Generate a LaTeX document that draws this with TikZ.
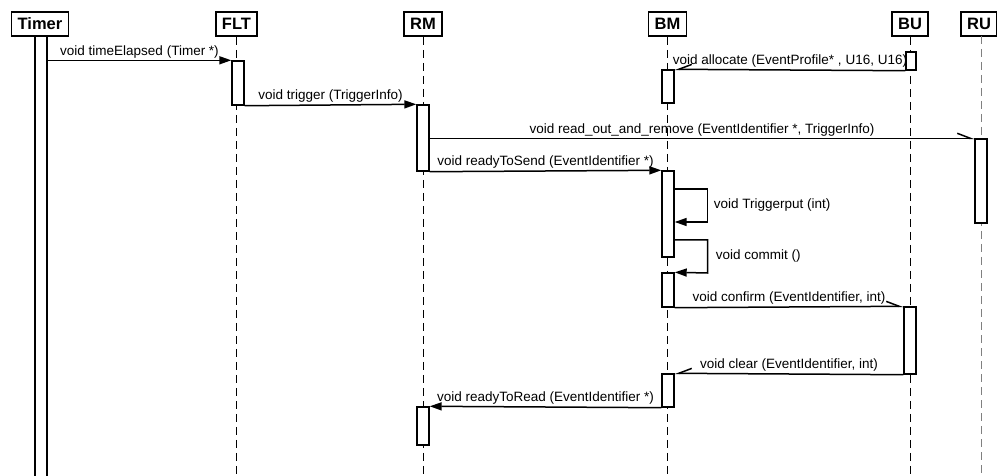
\documentclass[tikz,border=0pt]{standalone}
\usepackage{fontspec}
\setmainfont{Liberation Sans}
\usetikzlibrary{arrows.meta, positioning}
\tikzset{
  obj/.style={rectangle, draw=black, fill=white, line width=1.6pt,
              minimum height=24pt, inner xsep=6pt, inner ysep=0pt,
              font=\fontsize{16.5}{20}\selectfont\bfseries},
  life/.style={draw=black, line width=0.9pt, dash pattern=on 8pt off 5pt},
  act/.style={rectangle, draw=black, fill=white, line width=1.4pt,
              minimum width=12pt, inner sep=0pt},
  sync/.style={-{Triangle[length=12pt, width=8pt]}, draw=black, line width=1.5pt},
  async/.style={-{Straight Barb[length=13pt, width=10pt, harpoon]},
                draw=black, line width=1.5pt},
  asyncl/.style={-{Straight Barb[length=13pt, width=10pt, harpoon, swap]},
                 draw=black, line width=1.5pt},
  msg/.style={font=\fontsize{13.5}{16}\selectfont, inner sep=1.5pt},
}

\begin{document}
\begin{tikzpicture}[x=1pt, y=-1pt]
  \useasboundingbox (0,0) rectangle (997,476);
  \clip (0,0) rectangle (997,476);

  % objects
  \node[obj] (timer) at (40,24)    {Timer};
  \node[obj] (flt)   at (236.5,24) {FLT};
  \node[obj] (rm)    at (423,24)   {RM};
  \node[obj] (bm)    at (667.5,24) {BM};
  \node[obj] (bu)    at (910,24)   {BU};
  \node[obj] (ru)    at (979,24)   {RU};

  % lifelines
  \draw[life] (flt.south) -- (flt.south |- 0,480);
  \draw[life] (rm.south)  -- (rm.south |- 0,480);
  \draw[life] (bm.south)  -- (bm.south |- 0,480);
  \draw[life] (bu.south)  -- (bu.south |- 0,480);
  \draw[life, draw=gray] (981,36) -- (981,480);

  % activations
  \node[act, minimum height=450pt] (timerA) at (41,261)  {};
  \node[act, minimum height=44pt]  (flt1)   at (238,83)  {};
  \node[act, minimum height=66pt]  (rm1)    at (423,138) {};
  \node[act, minimum height=38pt]  (rm2)    at (423,426) {};
  \node[act, minimum height=33pt]  (bm1)    at (668,86.5){};
  \node[act, minimum height=86pt]  (bm2)    at (668,214) {};
  \node[act, minimum height=34pt]  (bm3)    at (668,290) {};
  \node[act, minimum height=33pt]  (bm4)    at (668,390.5){};
  \node[act, minimum height=18pt, minimum width=10pt] (bu1) at (911,61) {};
  \node[act, minimum height=67pt]  (bu2)    at (910,340.5){};
  \node[act, minimum height=84pt]  (ru1)    at (981,181) {};

  % messages
  \draw[sync] (timerA.east |- flt1.north west) --
    node[msg, above] {void timeElapsed (Timer *)} (flt1.north west);
  \draw[sync] (flt1.south east) --
    node[msg, above] {void trigger (TriggerInfo)} (rm1.north west);
  \draw[asyncl] (bu1.south west) --
    node[msg, above] {void allocate (EventProfile* , U16, U16)} (bm1.north east);
  \draw[async] (rm1.east |- ru1.north west) --
    node[msg, above] {void read\_out\_and\_remove (EventIdentifier *, TriggerInfo)} (ru1.north west);
  \draw[sync] (rm1.south east) --
    node[msg, above] {void readyToSend (EventIdentifier *)} (bm2.north west);
  \draw[sync] (bm2.east |- 0,189) -- ++(33,0) --
    node[msg, right=4pt] {void Triggerput (int)} ++(0,33) -- (bm2.east |- 0,222);
  \draw[sync] (bm2.east |- 0,240) -- ++(33,0) --
    node[msg, right=6pt] {void commit ()} ++(0,33) -- (bm3.north east);
  \draw[async] (bm3.south east) --
    node[msg, above] {void confirm (EventIdentifier, int)} (bu2.north west);
  \draw[asyncl] (bu2.south west) --
    node[msg, above] {void clear (EventIdentifier, int)} (bm4.north east);
  \draw[sync] (bm4.south west) --
    node[msg, above] {void readyToRead (EventIdentifier *)} (rm2.north east);
\end{tikzpicture}
\end{document}
